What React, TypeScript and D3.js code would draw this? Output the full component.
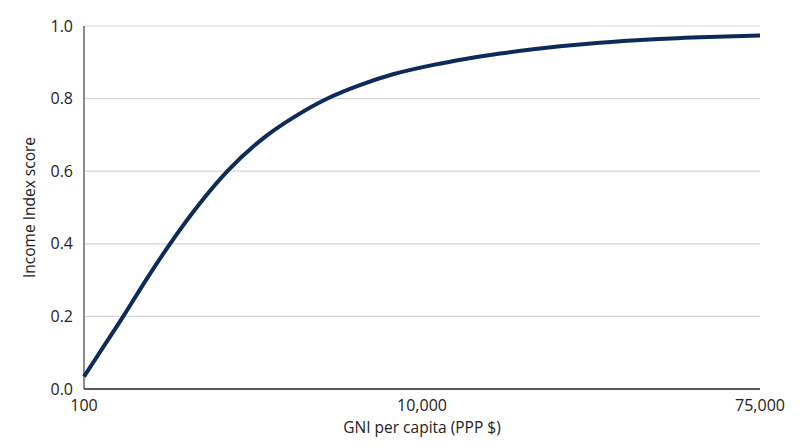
import * as d3 from "d3";

// x positions as GNI per capita (PPP $), y as Income Index score
const gni = [100, 570, 1250, 1900, 2600, 3450, 4300, 5450, 6250, 7200, 8200, 9150, 12200, 18600, 25000, 31400, 36500, 44200, 53800, 63500, 75000];
const score = [0.034, 0.102, 0.2, 0.298, 0.397, 0.506, 0.6, 0.698, 0.749, 0.799, 0.838, 0.867, 0.893, 0.91, 0.924, 0.936, 0.944, 0.954, 0.963, 0.969, 0.974];

const xTicks = [100, 10000, 75000];
const yTicks = [0, 0.2, 0.4, 0.6, 0.8, 1.0];

const W = 800;
const H = 447;
const margin = { top: 26, right: 40, bottom: 58, left: 84 };
const font = "'Open Sans', Lato, sans-serif";

export default function App() {
  const width = W - margin.left - margin.right;
  const height = H - margin.top - margin.bottom;

  // piecewise scale: the three labelled values are evenly spaced on the axis
  const x = d3.scaleLinear().domain(xTicks).range([0, width / 2, width]);
  const y = d3.scaleLinear().domain([0, 1]).range([height, 0]);

  const points = gni.map((g, i) => [g, score[i]] as [number, number]);
  const line = d3
    .line<[number, number]>()
    .x((d) => x(d[0]))
    .y((d) => y(d[1]))
    .curve(d3.curveMonotoneX);

  return (
    <svg
      width={W}
      height={H}
      style={{ position: "absolute", left: 0, top: 0, background: "#fff" }}
    >
      <g transform={`translate(${margin.left},${margin.top})`}>
        {yTicks.map((t) => (
          <g key={t}>
            {t > 0 && (
              <line x1={0} x2={width} y1={y(t)} y2={y(t)} stroke="#d6d6d6" strokeWidth={1.2} />
            )}
            <text
              x={-11}
              y={y(t)}
              dy="0.35em"
              textAnchor="end"
              fontFamily={font}
              fontSize={16}
              fill="#222"
            >
              {d3.format(".1f")(t)}
            </text>
          </g>
        ))}
        <line x1={0} x2={0} y1={0} y2={height} stroke="#666" strokeWidth={1.5} />
        <line x1={0} x2={width} y1={height} y2={height} stroke="#222" strokeWidth={1.5} />
        {xTicks.map((t) => (
          <text
            key={t}
            x={x(t)}
            y={height + 22}
            textAnchor="middle"
            fontFamily={font}
            fontSize={16}
            fill="#222"
          >
            {d3.format(",")(t)}
          </text>
        ))}
        <path d={line(points) ?? ""} fill="none" stroke="#0c2b58" strokeWidth={4} strokeLinecap="butt" />
        <text
          x={width / 2}
          y={height + 44}
          textAnchor="middle"
          fontFamily={font}
          fontSize={15.5}
          fill="#222"
        >
          GNI per capita (PPP $)
        </text>
        <text
          transform={`translate(${-54},${height / 2}) rotate(-90)`}
          dy="0.35em"
          textAnchor="middle"
          fontFamily={font}
          fontSize={15.5}
          fill="#222"
        >
          Income Index score
        </text>
      </g>
    </svg>
  );
}
